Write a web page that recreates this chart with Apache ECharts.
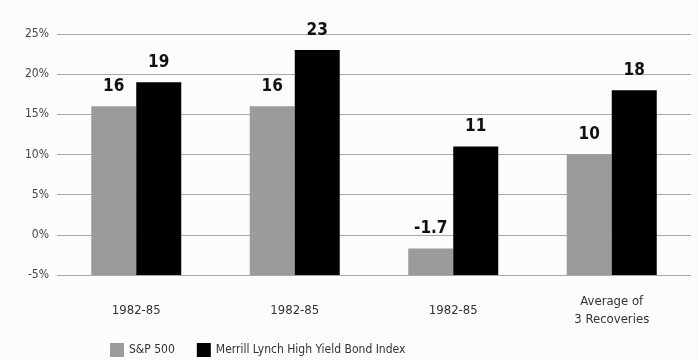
<!DOCTYPE html>
<html>
<head>
<meta charset="utf-8">
<script src="https://cdn.jsdelivr.net/npm/echarts@6/dist/echarts.min.js"></script>
<style>
	html, body { margin: 0; padding: 0; background: #fcfcfc; }
	#chart { width: 698px; height: 360px; }
</style>
</head>
<body>
<div id="chart"></div>
<script>
// categories and series values
var categories = ['1982-85', '1982-85', '1982-85', 'Average of\n3 Recoveries'];
var spValues = [16, 16, -1.7, 10];
var hyValues = [19, 23, 11, 18];
var tickLabels = ['-5%', '0%', '5%', '10%', '15%', '20%', '25%'];
var axisMin = -5;

var narrow = '"DejaVu Sans Condensed", "Liberation Sans Narrow", sans-serif';

/** --------bars start at the bottom of the axis (-5%), so shift by axisMin ------ */
function shift(arr) {
	var out = [];
	for (var i = 0; i < arr.length; i++) {
		out.push({ value: arr[i] - axisMin, raw: arr[i] });
	}
	return out;
}

var labelStyle = {
	show: true,
	position: 'top',
	distance: 11,
	color: '#111',
	fontSize: 17,
	fontWeight: 'bold',
	fontFamily: narrow,
	formatter: function(p) { return String(p.data.raw); }
};

var chart = echarts.init(document.getElementById('chart'));
var option = {
	backgroundColor: '#fcfcfc',
	animation: false,
	grid: { left: 57, right: 7, top: 34, bottom: 85 },
	legend: {
		left: 105,
		top: 338,
		icon: 'rect',
		itemWidth: 14,
		itemHeight: 14,
		itemGap: 22,
		textStyle: {
			color: '#333',
			fontSize: 12,
			fontFamily: narrow
		},
		data: ['S&P 500', 'Merrill Lynch High Yield Bond Index']
	},
	xAxis: {
		type: 'category',
		data: categories,
		axisLine: { show: false },
		axisTick: { show: false },
		axisLabel: {
			margin: 36,
			verticalAlign: 'middle',
			lineHeight: 18,
			color: '#333',
			fontSize: 13,
			fontFamily: narrow
		}
	},
	yAxis: {
		type: 'value',
		min: 0,
		max: 30,
		interval: 5,
		axisLine: { show: false },
		axisTick: { show: false },
		splitLine: { lineStyle: { color: '#a8a8a8', width: 1 } },
		axisLabel: {
			margin: 8,
			color: '#444',
			fontSize: 12,
			fontFamily: narrow,
			formatter: function(v) { return tickLabels[Math.round(v / 5)]; }
		}
	},
	series: [
		{
			name: 'S&P 500',
			type: 'bar',
			barWidth: 45,
			barGap: '0%',
			itemStyle: { color: '#9b9b9b' },
			label: labelStyle,
			data: shift(spValues)
		},
		{
			name: 'Merrill Lynch High Yield Bond Index',
			type: 'bar',
			barWidth: 45,
			barGap: '0%',
			itemStyle: { color: '#000' },
			label: labelStyle,
			data: shift(hyValues)
		}
	]
};
chart.setOption(option);
</script>
</body>
</html>
